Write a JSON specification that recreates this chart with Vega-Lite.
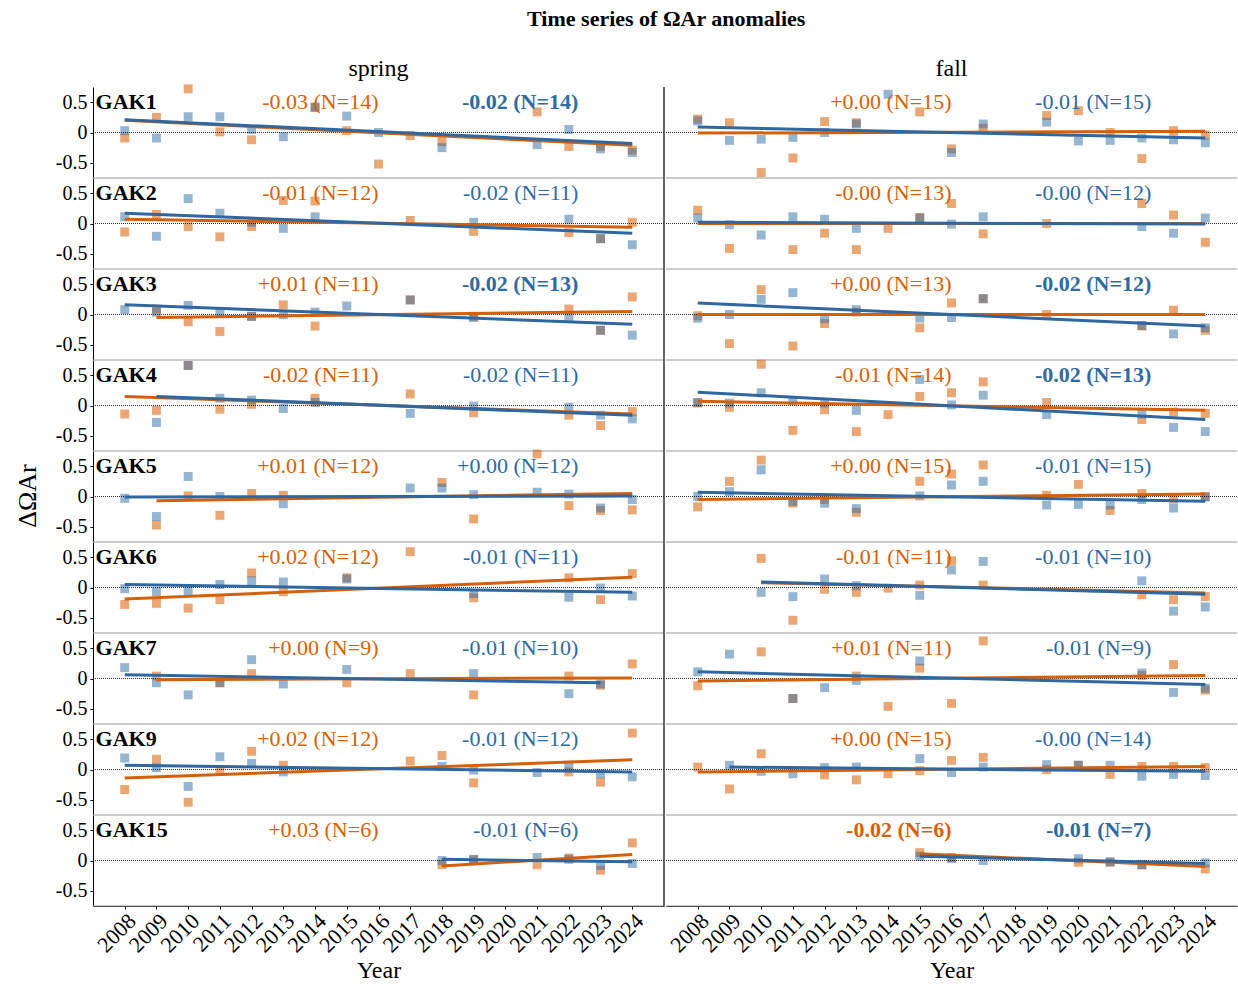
{
  "$schema": "https://vega.github.io/schema/vega-lite/v6.json",
  "padding": {"left": 14, "top": 8, "right": 2, "bottom": 4},
  "bounds": "flush",
  "title": {"text": "Time series of ΩAr anomalies", "fontSize": 22, "fontWeight": "bold", "frame": "bounds", "anchor": "middle", "dx": 40, "offset": 26},
  "config": {"font": "Liberation Serif", "view": {"stroke": null}, "axis": {"grid": false, "labelColor": "black", "titleColor": "black", "domainColor": "black", "tickColor": "black"}, "axisX": {"labelOverlap": false, "labelAngle": -45, "labelBound": false}},
  "data": {"values": [
    {"st":"GAK1","se":"spring","k":"a","ot":"-0.03 (N=14)","ob":false,"bt":"-0.02 (N=14)","bb":true},
    {"st":"GAK2","se":"spring","k":"a","ot":"-0.01 (N=12)","ob":false,"bt":"-0.02 (N=11)","bb":false},
    {"st":"GAK3","se":"spring","k":"a","ot":"+0.01 (N=11)","ob":false,"bt":"-0.02 (N=13)","bb":true},
    {"st":"GAK4","se":"spring","k":"a","ot":"-0.02 (N=11)","ob":false,"bt":"-0.02 (N=11)","bb":false},
    {"st":"GAK5","se":"spring","k":"a","ot":"+0.01 (N=12)","ob":false,"bt":"+0.00 (N=12)","bb":false},
    {"st":"GAK6","se":"spring","k":"a","ot":"+0.02 (N=12)","ob":false,"bt":"-0.01 (N=11)","bb":false},
    {"st":"GAK7","se":"spring","k":"a","ot":"+0.00 (N=9)","ob":false,"bt":"-0.01 (N=10)","bb":false},
    {"st":"GAK9","se":"spring","k":"a","ot":"+0.02 (N=12)","ob":false,"bt":"-0.01 (N=12)","bb":false},
    {"st":"GAK15","se":"spring","k":"a","ot":"+0.03 (N=6)","ob":false,"bt":"-0.01 (N=6)","bb":false},
    {"st":"GAK1","se":"fall","k":"a","ot":"+0.00 (N=15)","ob":false,"bt":"-0.01 (N=15)","bb":false},
    {"st":"GAK2","se":"fall","k":"a","ot":"-0.00 (N=13)","ob":false,"bt":"-0.00 (N=12)","bb":false},
    {"st":"GAK3","se":"fall","k":"a","ot":"+0.00 (N=13)","ob":false,"bt":"-0.02 (N=12)","bb":true},
    {"st":"GAK4","se":"fall","k":"a","ot":"-0.01 (N=14)","ob":false,"bt":"-0.02 (N=13)","bb":true},
    {"st":"GAK5","se":"fall","k":"a","ot":"+0.00 (N=15)","ob":false,"bt":"-0.01 (N=15)","bb":false},
    {"st":"GAK6","se":"fall","k":"a","ot":"-0.01 (N=11)","ob":false,"bt":"-0.01 (N=10)","bb":false},
    {"st":"GAK7","se":"fall","k":"a","ot":"+0.01 (N=11)","ob":false,"bt":"-0.01 (N=9)","bb":false},
    {"st":"GAK9","se":"fall","k":"a","ot":"+0.00 (N=15)","ob":false,"bt":"-0.00 (N=14)","bb":false},
    {"st":"GAK15","se":"fall","k":"a","ot":"-0.02 (N=6)","ob":true,"bt":"-0.01 (N=7)","bb":true},

    {"st":"GAK1","se":"spring","k":"t","s":"o","yr":2008,"v":0.20},{"st":"GAK1","se":"spring","k":"t","s":"o","yr":2024,"v":-0.21},
    {"st":"GAK1","se":"spring","k":"t","s":"b","yr":2008,"v":0.21},{"st":"GAK1","se":"spring","k":"t","s":"b","yr":2024,"v":-0.18},
    {"st":"GAK2","se":"spring","k":"t","s":"o","yr":2008,"v":0.07},{"st":"GAK2","se":"spring","k":"t","s":"o","yr":2024,"v":-0.06},
    {"st":"GAK2","se":"spring","k":"t","s":"b","yr":2008,"v":0.17},{"st":"GAK2","se":"spring","k":"t","s":"b","yr":2024,"v":-0.16},
    {"st":"GAK3","se":"spring","k":"t","s":"o","yr":2009,"v":-0.05},{"st":"GAK3","se":"spring","k":"t","s":"o","yr":2024,"v":0.05},
    {"st":"GAK3","se":"spring","k":"t","s":"b","yr":2008,"v":0.16},{"st":"GAK3","se":"spring","k":"t","s":"b","yr":2024,"v":-0.16},
    {"st":"GAK4","se":"spring","k":"t","s":"o","yr":2008,"v":0.15},{"st":"GAK4","se":"spring","k":"t","s":"o","yr":2024,"v":-0.14},
    {"st":"GAK4","se":"spring","k":"t","s":"b","yr":2009,"v":0.15},{"st":"GAK4","se":"spring","k":"t","s":"b","yr":2024,"v":-0.16},
    {"st":"GAK5","se":"spring","k":"t","s":"o","yr":2009,"v":-0.07},{"st":"GAK5","se":"spring","k":"t","s":"o","yr":2024,"v":0.05},
    {"st":"GAK5","se":"spring","k":"t","s":"b","yr":2008,"v":-0.01},{"st":"GAK5","se":"spring","k":"t","s":"b","yr":2024,"v":0.01},
    {"st":"GAK6","se":"spring","k":"t","s":"o","yr":2008,"v":-0.19},{"st":"GAK6","se":"spring","k":"t","s":"o","yr":2024,"v":0.17},
    {"st":"GAK6","se":"spring","k":"t","s":"b","yr":2008,"v":0.05},{"st":"GAK6","se":"spring","k":"t","s":"b","yr":2024,"v":-0.08},
    {"st":"GAK7","se":"spring","k":"t","s":"o","yr":2009,"v":-0.02},{"st":"GAK7","se":"spring","k":"t","s":"o","yr":2024,"v":0.01},
    {"st":"GAK7","se":"spring","k":"t","s":"b","yr":2008,"v":0.06},{"st":"GAK7","se":"spring","k":"t","s":"b","yr":2023,"v":-0.07},
    {"st":"GAK9","se":"spring","k":"t","s":"o","yr":2008,"v":-0.14},{"st":"GAK9","se":"spring","k":"t","s":"o","yr":2024,"v":0.16},
    {"st":"GAK9","se":"spring","k":"t","s":"b","yr":2008,"v":0.07},{"st":"GAK9","se":"spring","k":"t","s":"b","yr":2024,"v":-0.04},
    {"st":"GAK15","se":"spring","k":"t","s":"o","yr":2018,"v":-0.09},{"st":"GAK15","se":"spring","k":"t","s":"o","yr":2024,"v":0.10},
    {"st":"GAK15","se":"spring","k":"t","s":"b","yr":2018,"v":0.02},{"st":"GAK15","se":"spring","k":"t","s":"b","yr":2024,"v":-0.02},
    {"st":"GAK1","se":"fall","k":"t","s":"o","yr":2008,"v":-0.01},{"st":"GAK1","se":"fall","k":"t","s":"o","yr":2024,"v":0.02},
    {"st":"GAK1","se":"fall","k":"t","s":"b","yr":2008,"v":0.09},{"st":"GAK1","se":"fall","k":"t","s":"b","yr":2024,"v":-0.09},
    {"st":"GAK2","se":"fall","k":"t","s":"o","yr":2008,"v":0.0},{"st":"GAK2","se":"fall","k":"t","s":"o","yr":2024,"v":0.0},
    {"st":"GAK2","se":"fall","k":"t","s":"b","yr":2008,"v":0.02},{"st":"GAK2","se":"fall","k":"t","s":"b","yr":2024,"v":-0.01},
    {"st":"GAK3","se":"fall","k":"t","s":"o","yr":2008,"v":0.0},{"st":"GAK3","se":"fall","k":"t","s":"o","yr":2024,"v":0.0},
    {"st":"GAK3","se":"fall","k":"t","s":"b","yr":2008,"v":0.19},{"st":"GAK3","se":"fall","k":"t","s":"b","yr":2024,"v":-0.19},
    {"st":"GAK4","se":"fall","k":"t","s":"o","yr":2008,"v":0.07},{"st":"GAK4","se":"fall","k":"t","s":"o","yr":2024,"v":-0.08},
    {"st":"GAK4","se":"fall","k":"t","s":"b","yr":2008,"v":0.22},{"st":"GAK4","se":"fall","k":"t","s":"b","yr":2024,"v":-0.23},
    {"st":"GAK5","se":"fall","k":"t","s":"o","yr":2008,"v":-0.05},{"st":"GAK5","se":"fall","k":"t","s":"o","yr":2024,"v":0.04},
    {"st":"GAK5","se":"fall","k":"t","s":"b","yr":2008,"v":0.07},{"st":"GAK5","se":"fall","k":"t","s":"b","yr":2024,"v":-0.08},
    {"st":"GAK6","se":"fall","k":"t","s":"o","yr":2010,"v":0.08},{"st":"GAK6","se":"fall","k":"t","s":"o","yr":2024,"v":-0.09},
    {"st":"GAK6","se":"fall","k":"t","s":"b","yr":2010,"v":0.09},{"st":"GAK6","se":"fall","k":"t","s":"b","yr":2024,"v":-0.11},
    {"st":"GAK7","se":"fall","k":"t","s":"o","yr":2008,"v":-0.04},{"st":"GAK7","se":"fall","k":"t","s":"o","yr":2024,"v":0.05},
    {"st":"GAK7","se":"fall","k":"t","s":"b","yr":2008,"v":0.11},{"st":"GAK7","se":"fall","k":"t","s":"b","yr":2024,"v":-0.10},
    {"st":"GAK9","se":"fall","k":"t","s":"o","yr":2008,"v":-0.04},{"st":"GAK9","se":"fall","k":"t","s":"o","yr":2024,"v":0.05},
    {"st":"GAK9","se":"fall","k":"t","s":"b","yr":2009,"v":0.04},{"st":"GAK9","se":"fall","k":"t","s":"b","yr":2024,"v":-0.03},
    {"st":"GAK15","se":"fall","k":"t","s":"o","yr":2015,"v":0.11},{"st":"GAK15","se":"fall","k":"t","s":"o","yr":2024,"v":-0.10},
    {"st":"GAK15","se":"fall","k":"t","s":"b","yr":2015,"v":0.07},{"st":"GAK15","se":"fall","k":"t","s":"b","yr":2024,"v":-0.05},

    {"st":"GAK1","se":"spring","k":"p","s":"o","yr":2008,"v":-0.09},{"st":"GAK1","se":"spring","k":"p","s":"o","yr":2009,"v":0.25},{"st":"GAK1","se":"spring","k":"p","s":"o","yr":2010,"v":0.72},{"st":"GAK1","se":"spring","k":"p","s":"o","yr":2011,"v":0.01},{"st":"GAK1","se":"spring","k":"p","s":"o","yr":2012,"v":-0.12},{"st":"GAK1","se":"spring","k":"p","s":"o","yr":2014,"v":0.41},{"st":"GAK1","se":"spring","k":"p","s":"o","yr":2015,"v":0.03},{"st":"GAK1","se":"spring","k":"p","s":"o","yr":2016,"v":-0.52},{"st":"GAK1","se":"spring","k":"p","s":"o","yr":2017,"v":-0.05},{"st":"GAK1","se":"spring","k":"p","s":"o","yr":2018,"v":-0.15},{"st":"GAK1","se":"spring","k":"p","s":"o","yr":2021,"v":0.34},{"st":"GAK1","se":"spring","k":"p","s":"o","yr":2022,"v":-0.23},{"st":"GAK1","se":"spring","k":"p","s":"o","yr":2023,"v":-0.23},{"st":"GAK1","se":"spring","k":"p","s":"o","yr":2024,"v":-0.29},
    {"st":"GAK1","se":"spring","k":"p","s":"b","yr":2008,"v":0.03},{"st":"GAK1","se":"spring","k":"p","s":"b","yr":2009,"v":-0.09},{"st":"GAK1","se":"spring","k":"p","s":"b","yr":2010,"v":0.26},{"st":"GAK1","se":"spring","k":"p","s":"b","yr":2011,"v":0.26},{"st":"GAK1","se":"spring","k":"p","s":"b","yr":2012,"v":0.05},{"st":"GAK1","se":"spring","k":"p","s":"b","yr":2013,"v":-0.07},{"st":"GAK1","se":"spring","k":"p","s":"b","yr":2014,"v":0.42},{"st":"GAK1","se":"spring","k":"p","s":"b","yr":2015,"v":0.27},{"st":"GAK1","se":"spring","k":"p","s":"b","yr":2016,"v":0.0},{"st":"GAK1","se":"spring","k":"p","s":"b","yr":2018,"v":-0.25},{"st":"GAK1","se":"spring","k":"p","s":"b","yr":2021,"v":-0.2},{"st":"GAK1","se":"spring","k":"p","s":"b","yr":2022,"v":0.05},{"st":"GAK1","se":"spring","k":"p","s":"b","yr":2023,"v":-0.27},{"st":"GAK1","se":"spring","k":"p","s":"b","yr":2024,"v":-0.33},

    {"st":"GAK2","se":"spring","k":"p","s":"o","yr":2008,"v":-0.14},{"st":"GAK2","se":"spring","k":"p","s":"o","yr":2009,"v":0.15},{"st":"GAK2","se":"spring","k":"p","s":"o","yr":2010,"v":-0.05},{"st":"GAK2","se":"spring","k":"p","s":"o","yr":2011,"v":-0.22},{"st":"GAK2","se":"spring","k":"p","s":"o","yr":2012,"v":-0.05},{"st":"GAK2","se":"spring","k":"p","s":"o","yr":2013,"v":0.38},{"st":"GAK2","se":"spring","k":"p","s":"o","yr":2014,"v":0.37},{"st":"GAK2","se":"spring","k":"p","s":"o","yr":2017,"v":0.05},{"st":"GAK2","se":"spring","k":"p","s":"o","yr":2019,"v":-0.13},{"st":"GAK2","se":"spring","k":"p","s":"o","yr":2022,"v":-0.15},{"st":"GAK2","se":"spring","k":"p","s":"o","yr":2023,"v":-0.25},{"st":"GAK2","se":"spring","k":"p","s":"o","yr":2024,"v":0.02},
    {"st":"GAK2","se":"spring","k":"p","s":"b","yr":2008,"v":0.11},{"st":"GAK2","se":"spring","k":"p","s":"b","yr":2009,"v":-0.21},{"st":"GAK2","se":"spring","k":"p","s":"b","yr":2010,"v":0.41},{"st":"GAK2","se":"spring","k":"p","s":"b","yr":2011,"v":0.17},{"st":"GAK2","se":"spring","k":"p","s":"b","yr":2012,"v":0.02},{"st":"GAK2","se":"spring","k":"p","s":"b","yr":2013,"v":-0.08},{"st":"GAK2","se":"spring","k":"p","s":"b","yr":2014,"v":0.11},{"st":"GAK2","se":"spring","k":"p","s":"b","yr":2019,"v":0.02},{"st":"GAK2","se":"spring","k":"p","s":"b","yr":2022,"v":0.07},{"st":"GAK2","se":"spring","k":"p","s":"b","yr":2023,"v":-0.25},{"st":"GAK2","se":"spring","k":"p","s":"b","yr":2024,"v":-0.35},

    {"st":"GAK3","se":"spring","k":"p","s":"o","yr":2009,"v":0.09},{"st":"GAK3","se":"spring","k":"p","s":"o","yr":2010,"v":-0.12},{"st":"GAK3","se":"spring","k":"p","s":"o","yr":2011,"v":-0.28},{"st":"GAK3","se":"spring","k":"p","s":"o","yr":2012,"v":-0.03},{"st":"GAK3","se":"spring","k":"p","s":"o","yr":2013,"v":0.16},{"st":"GAK3","se":"spring","k":"p","s":"o","yr":2014,"v":-0.19},{"st":"GAK3","se":"spring","k":"p","s":"o","yr":2017,"v":0.24},{"st":"GAK3","se":"spring","k":"p","s":"o","yr":2019,"v":-0.03},{"st":"GAK3","se":"spring","k":"p","s":"o","yr":2022,"v":0.09},{"st":"GAK3","se":"spring","k":"p","s":"o","yr":2023,"v":-0.26},{"st":"GAK3","se":"spring","k":"p","s":"o","yr":2024,"v":0.29},
    {"st":"GAK3","se":"spring","k":"p","s":"b","yr":2008,"v":0.08},{"st":"GAK3","se":"spring","k":"p","s":"b","yr":2009,"v":0.04},{"st":"GAK3","se":"spring","k":"p","s":"b","yr":2010,"v":0.15},{"st":"GAK3","se":"spring","k":"p","s":"b","yr":2011,"v":0.04},{"st":"GAK3","se":"spring","k":"p","s":"b","yr":2012,"v":-0.03},{"st":"GAK3","se":"spring","k":"p","s":"b","yr":2013,"v":0.0},{"st":"GAK3","se":"spring","k":"p","s":"b","yr":2014,"v":0.04},{"st":"GAK3","se":"spring","k":"p","s":"b","yr":2015,"v":0.14},{"st":"GAK3","se":"spring","k":"p","s":"b","yr":2017,"v":0.24},{"st":"GAK3","se":"spring","k":"p","s":"b","yr":2019,"v":-0.05},{"st":"GAK3","se":"spring","k":"p","s":"b","yr":2022,"v":-0.03},{"st":"GAK3","se":"spring","k":"p","s":"b","yr":2023,"v":-0.26},{"st":"GAK3","se":"spring","k":"p","s":"b","yr":2024,"v":-0.34},

    {"st":"GAK4","se":"spring","k":"p","s":"o","yr":2008,"v":-0.14},{"st":"GAK4","se":"spring","k":"p","s":"o","yr":2009,"v":-0.08},{"st":"GAK4","se":"spring","k":"p","s":"o","yr":2010,"v":0.66},{"st":"GAK4","se":"spring","k":"p","s":"o","yr":2011,"v":-0.06},{"st":"GAK4","se":"spring","k":"p","s":"o","yr":2012,"v":0.02},{"st":"GAK4","se":"spring","k":"p","s":"o","yr":2014,"v":0.12},{"st":"GAK4","se":"spring","k":"p","s":"o","yr":2017,"v":0.19},{"st":"GAK4","se":"spring","k":"p","s":"o","yr":2019,"v":-0.12},{"st":"GAK4","se":"spring","k":"p","s":"o","yr":2022,"v":-0.16},{"st":"GAK4","se":"spring","k":"p","s":"o","yr":2023,"v":-0.33},{"st":"GAK4","se":"spring","k":"p","s":"o","yr":2024,"v":-0.1},
    {"st":"GAK4","se":"spring","k":"p","s":"b","yr":2009,"v":-0.28},{"st":"GAK4","se":"spring","k":"p","s":"b","yr":2010,"v":0.66},{"st":"GAK4","se":"spring","k":"p","s":"b","yr":2011,"v":0.12},{"st":"GAK4","se":"spring","k":"p","s":"b","yr":2012,"v":0.09},{"st":"GAK4","se":"spring","k":"p","s":"b","yr":2013,"v":-0.05},{"st":"GAK4","se":"spring","k":"p","s":"b","yr":2014,"v":0.05},{"st":"GAK4","se":"spring","k":"p","s":"b","yr":2017,"v":-0.13},{"st":"GAK4","se":"spring","k":"p","s":"b","yr":2019,"v":-0.01},{"st":"GAK4","se":"spring","k":"p","s":"b","yr":2022,"v":-0.03},{"st":"GAK4","se":"spring","k":"p","s":"b","yr":2023,"v":-0.16},{"st":"GAK4","se":"spring","k":"p","s":"b","yr":2024,"v":-0.22},

    {"st":"GAK5","se":"spring","k":"p","s":"o","yr":2009,"v":-0.47},{"st":"GAK5","se":"spring","k":"p","s":"o","yr":2010,"v":0.01},{"st":"GAK5","se":"spring","k":"p","s":"o","yr":2011,"v":-0.31},{"st":"GAK5","se":"spring","k":"p","s":"o","yr":2012,"v":0.05},{"st":"GAK5","se":"spring","k":"p","s":"o","yr":2013,"v":0.02},{"st":"GAK5","se":"spring","k":"p","s":"o","yr":2018,"v":0.23},{"st":"GAK5","se":"spring","k":"p","s":"o","yr":2019,"v":-0.37},{"st":"GAK5","se":"spring","k":"p","s":"o","yr":2021,"v":0.7},{"st":"GAK5","se":"spring","k":"p","s":"o","yr":2022,"v":-0.15},{"st":"GAK5","se":"spring","k":"p","s":"o","yr":2023,"v":-0.23},{"st":"GAK5","se":"spring","k":"p","s":"o","yr":2024,"v":-0.22},
    {"st":"GAK5","se":"spring","k":"p","s":"b","yr":2008,"v":-0.03},{"st":"GAK5","se":"spring","k":"p","s":"b","yr":2009,"v":-0.33},{"st":"GAK5","se":"spring","k":"p","s":"b","yr":2010,"v":0.33},{"st":"GAK5","se":"spring","k":"p","s":"b","yr":2011,"v":0.0},{"st":"GAK5","se":"spring","k":"p","s":"b","yr":2013,"v":-0.12},{"st":"GAK5","se":"spring","k":"p","s":"b","yr":2017,"v":0.14},{"st":"GAK5","se":"spring","k":"p","s":"b","yr":2018,"v":0.14},{"st":"GAK5","se":"spring","k":"p","s":"b","yr":2019,"v":0.03},{"st":"GAK5","se":"spring","k":"p","s":"b","yr":2021,"v":0.07},{"st":"GAK5","se":"spring","k":"p","s":"b","yr":2022,"v":0.04},{"st":"GAK5","se":"spring","k":"p","s":"b","yr":2023,"v":-0.19},{"st":"GAK5","se":"spring","k":"p","s":"b","yr":2024,"v":-0.05},

    {"st":"GAK6","se":"spring","k":"p","s":"o","yr":2008,"v":-0.28},{"st":"GAK6","se":"spring","k":"p","s":"o","yr":2009,"v":-0.26},{"st":"GAK6","se":"spring","k":"p","s":"o","yr":2010,"v":-0.34},{"st":"GAK6","se":"spring","k":"p","s":"o","yr":2011,"v":-0.2},{"st":"GAK6","se":"spring","k":"p","s":"o","yr":2012,"v":0.24},{"st":"GAK6","se":"spring","k":"p","s":"o","yr":2013,"v":-0.07},{"st":"GAK6","se":"spring","k":"p","s":"o","yr":2015,"v":0.16},{"st":"GAK6","se":"spring","k":"p","s":"o","yr":2017,"v":0.59},{"st":"GAK6","se":"spring","k":"p","s":"o","yr":2019,"v":-0.17},{"st":"GAK6","se":"spring","k":"p","s":"o","yr":2022,"v":0.16},{"st":"GAK6","se":"spring","k":"p","s":"o","yr":2023,"v":-0.2},{"st":"GAK6","se":"spring","k":"p","s":"o","yr":2024,"v":0.23},
    {"st":"GAK6","se":"spring","k":"p","s":"b","yr":2008,"v":-0.02},{"st":"GAK6","se":"spring","k":"p","s":"b","yr":2009,"v":-0.07},{"st":"GAK6","se":"spring","k":"p","s":"b","yr":2010,"v":-0.05},{"st":"GAK6","se":"spring","k":"p","s":"b","yr":2011,"v":0.05},{"st":"GAK6","se":"spring","k":"p","s":"b","yr":2012,"v":0.11},{"st":"GAK6","se":"spring","k":"p","s":"b","yr":2013,"v":0.09},{"st":"GAK6","se":"spring","k":"p","s":"b","yr":2015,"v":0.14},{"st":"GAK6","se":"spring","k":"p","s":"b","yr":2019,"v":-0.1},{"st":"GAK6","se":"spring","k":"p","s":"b","yr":2022,"v":-0.16},{"st":"GAK6","se":"spring","k":"p","s":"b","yr":2023,"v":-0.01},{"st":"GAK6","se":"spring","k":"p","s":"b","yr":2024,"v":-0.14},

    {"st":"GAK7","se":"spring","k":"p","s":"o","yr":2009,"v":0.04},{"st":"GAK7","se":"spring","k":"p","s":"o","yr":2011,"v":-0.07},{"st":"GAK7","se":"spring","k":"p","s":"o","yr":2012,"v":0.08},{"st":"GAK7","se":"spring","k":"p","s":"o","yr":2015,"v":-0.07},{"st":"GAK7","se":"spring","k":"p","s":"o","yr":2017,"v":0.08},{"st":"GAK7","se":"spring","k":"p","s":"o","yr":2019,"v":-0.27},{"st":"GAK7","se":"spring","k":"p","s":"o","yr":2022,"v":0.04},{"st":"GAK7","se":"spring","k":"p","s":"o","yr":2023,"v":-0.11},{"st":"GAK7","se":"spring","k":"p","s":"o","yr":2024,"v":0.24},
    {"st":"GAK7","se":"spring","k":"p","s":"b","yr":2008,"v":0.18},{"st":"GAK7","se":"spring","k":"p","s":"b","yr":2009,"v":-0.07},{"st":"GAK7","se":"spring","k":"p","s":"b","yr":2010,"v":-0.27},{"st":"GAK7","se":"spring","k":"p","s":"b","yr":2011,"v":-0.07},{"st":"GAK7","se":"spring","k":"p","s":"b","yr":2012,"v":0.31},{"st":"GAK7","se":"spring","k":"p","s":"b","yr":2013,"v":-0.09},{"st":"GAK7","se":"spring","k":"p","s":"b","yr":2015,"v":0.15},{"st":"GAK7","se":"spring","k":"p","s":"b","yr":2019,"v":0.08},{"st":"GAK7","se":"spring","k":"p","s":"b","yr":2022,"v":-0.25},{"st":"GAK7","se":"spring","k":"p","s":"b","yr":2023,"v":-0.09},

    {"st":"GAK9","se":"spring","k":"p","s":"o","yr":2008,"v":-0.33},{"st":"GAK9","se":"spring","k":"p","s":"o","yr":2009,"v":0.17},{"st":"GAK9","se":"spring","k":"p","s":"o","yr":2010,"v":-0.54},{"st":"GAK9","se":"spring","k":"p","s":"o","yr":2011,"v":-0.03},{"st":"GAK9","se":"spring","k":"p","s":"o","yr":2012,"v":0.3},{"st":"GAK9","se":"spring","k":"p","s":"o","yr":2013,"v":0.07},{"st":"GAK9","se":"spring","k":"p","s":"o","yr":2017,"v":0.14},{"st":"GAK9","se":"spring","k":"p","s":"o","yr":2018,"v":0.23},{"st":"GAK9","se":"spring","k":"p","s":"o","yr":2019,"v":-0.22},{"st":"GAK9","se":"spring","k":"p","s":"o","yr":2022,"v":-0.04},{"st":"GAK9","se":"spring","k":"p","s":"o","yr":2023,"v":-0.21},{"st":"GAK9","se":"spring","k":"p","s":"o","yr":2024,"v":0.6},
    {"st":"GAK9","se":"spring","k":"p","s":"b","yr":2008,"v":0.19},{"st":"GAK9","se":"spring","k":"p","s":"b","yr":2009,"v":0.03},{"st":"GAK9","se":"spring","k":"p","s":"b","yr":2010,"v":-0.28},{"st":"GAK9","se":"spring","k":"p","s":"b","yr":2011,"v":0.21},{"st":"GAK9","se":"spring","k":"p","s":"b","yr":2012,"v":0.1},{"st":"GAK9","se":"spring","k":"p","s":"b","yr":2013,"v":-0.04},{"st":"GAK9","se":"spring","k":"p","s":"b","yr":2018,"v":0.05},{"st":"GAK9","se":"spring","k":"p","s":"b","yr":2019,"v":-0.01},{"st":"GAK9","se":"spring","k":"p","s":"b","yr":2021,"v":-0.05},{"st":"GAK9","se":"spring","k":"p","s":"b","yr":2022,"v":0.07},{"st":"GAK9","se":"spring","k":"p","s":"b","yr":2023,"v":-0.07},{"st":"GAK9","se":"spring","k":"p","s":"b","yr":2024,"v":-0.12},

    {"st":"GAK15","se":"spring","k":"p","s":"o","yr":2018,"v":-0.07},{"st":"GAK15","se":"spring","k":"p","s":"o","yr":2019,"v":0.01},{"st":"GAK15","se":"spring","k":"p","s":"o","yr":2021,"v":-0.07},{"st":"GAK15","se":"spring","k":"p","s":"o","yr":2022,"v":0.04},{"st":"GAK15","se":"spring","k":"p","s":"o","yr":2023,"v":-0.16},{"st":"GAK15","se":"spring","k":"p","s":"o","yr":2024,"v":0.29},
    {"st":"GAK15","se":"spring","k":"p","s":"b","yr":2018,"v":0.0},{"st":"GAK15","se":"spring","k":"p","s":"b","yr":2019,"v":0.02},{"st":"GAK15","se":"spring","k":"p","s":"b","yr":2021,"v":0.05},{"st":"GAK15","se":"spring","k":"p","s":"b","yr":2022,"v":0.02},{"st":"GAK15","se":"spring","k":"p","s":"b","yr":2023,"v":-0.08},{"st":"GAK15","se":"spring","k":"p","s":"b","yr":2024,"v":-0.05},

    {"st":"GAK1","se":"fall","k":"p","s":"o","yr":2008,"v":0.22},{"st":"GAK1","se":"fall","k":"p","s":"o","yr":2009,"v":0.16},{"st":"GAK1","se":"fall","k":"p","s":"o","yr":2010,"v":-0.66},{"st":"GAK1","se":"fall","k":"p","s":"o","yr":2011,"v":-0.42},{"st":"GAK1","se":"fall","k":"p","s":"o","yr":2012,"v":0.18},{"st":"GAK1","se":"fall","k":"p","s":"o","yr":2013,"v":0.16},{"st":"GAK1","se":"fall","k":"p","s":"o","yr":2015,"v":0.34},{"st":"GAK1","se":"fall","k":"p","s":"o","yr":2016,"v":-0.27},{"st":"GAK1","se":"fall","k":"p","s":"o","yr":2017,"v":0.07},{"st":"GAK1","se":"fall","k":"p","s":"o","yr":2019,"v":0.28},{"st":"GAK1","se":"fall","k":"p","s":"o","yr":2020,"v":0.36},{"st":"GAK1","se":"fall","k":"p","s":"o","yr":2021,"v":0.0},{"st":"GAK1","se":"fall","k":"p","s":"o","yr":2022,"v":-0.43},{"st":"GAK1","se":"fall","k":"p","s":"o","yr":2023,"v":0.03},{"st":"GAK1","se":"fall","k":"p","s":"o","yr":2024,"v":-0.04},
    {"st":"GAK1","se":"fall","k":"p","s":"b","yr":2008,"v":0.19},{"st":"GAK1","se":"fall","k":"p","s":"b","yr":2009,"v":-0.13},{"st":"GAK1","se":"fall","k":"p","s":"b","yr":2010,"v":-0.11},{"st":"GAK1","se":"fall","k":"p","s":"b","yr":2011,"v":-0.08},{"st":"GAK1","se":"fall","k":"p","s":"b","yr":2012,"v":0.0},{"st":"GAK1","se":"fall","k":"p","s":"b","yr":2013,"v":0.14},{"st":"GAK1","se":"fall","k":"p","s":"b","yr":2014,"v":0.63},{"st":"GAK1","se":"fall","k":"p","s":"b","yr":2016,"v":-0.33},{"st":"GAK1","se":"fall","k":"p","s":"b","yr":2017,"v":0.14},{"st":"GAK1","se":"fall","k":"p","s":"b","yr":2019,"v":0.17},{"st":"GAK1","se":"fall","k":"p","s":"b","yr":2020,"v":-0.14},{"st":"GAK1","se":"fall","k":"p","s":"b","yr":2021,"v":-0.13},{"st":"GAK1","se":"fall","k":"p","s":"b","yr":2022,"v":-0.09},{"st":"GAK1","se":"fall","k":"p","s":"b","yr":2023,"v":-0.12},{"st":"GAK1","se":"fall","k":"p","s":"b","yr":2024,"v":-0.17},

    {"st":"GAK2","se":"fall","k":"p","s":"o","yr":2008,"v":0.22},{"st":"GAK2","se":"fall","k":"p","s":"o","yr":2009,"v":-0.41},{"st":"GAK2","se":"fall","k":"p","s":"o","yr":2011,"v":-0.43},{"st":"GAK2","se":"fall","k":"p","s":"o","yr":2012,"v":-0.16},{"st":"GAK2","se":"fall","k":"p","s":"o","yr":2013,"v":-0.43},{"st":"GAK2","se":"fall","k":"p","s":"o","yr":2014,"v":-0.08},{"st":"GAK2","se":"fall","k":"p","s":"o","yr":2015,"v":0.1},{"st":"GAK2","se":"fall","k":"p","s":"o","yr":2016,"v":0.33},{"st":"GAK2","se":"fall","k":"p","s":"o","yr":2017,"v":-0.17},{"st":"GAK2","se":"fall","k":"p","s":"o","yr":2019,"v":0.0},{"st":"GAK2","se":"fall","k":"p","s":"o","yr":2022,"v":0.33},{"st":"GAK2","se":"fall","k":"p","s":"o","yr":2023,"v":0.14},{"st":"GAK2","se":"fall","k":"p","s":"o","yr":2024,"v":-0.31},
    {"st":"GAK2","se":"fall","k":"p","s":"b","yr":2008,"v":0.09},{"st":"GAK2","se":"fall","k":"p","s":"b","yr":2009,"v":-0.02},{"st":"GAK2","se":"fall","k":"p","s":"b","yr":2010,"v":-0.19},{"st":"GAK2","se":"fall","k":"p","s":"b","yr":2011,"v":0.11},{"st":"GAK2","se":"fall","k":"p","s":"b","yr":2012,"v":0.07},{"st":"GAK2","se":"fall","k":"p","s":"b","yr":2013,"v":-0.08},{"st":"GAK2","se":"fall","k":"p","s":"b","yr":2015,"v":0.09},{"st":"GAK2","se":"fall","k":"p","s":"b","yr":2016,"v":-0.01},{"st":"GAK2","se":"fall","k":"p","s":"b","yr":2017,"v":0.11},{"st":"GAK2","se":"fall","k":"p","s":"b","yr":2022,"v":-0.05},{"st":"GAK2","se":"fall","k":"p","s":"b","yr":2023,"v":-0.16},{"st":"GAK2","se":"fall","k":"p","s":"b","yr":2024,"v":0.09},

    {"st":"GAK3","se":"fall","k":"p","s":"o","yr":2008,"v":-0.02},{"st":"GAK3","se":"fall","k":"p","s":"o","yr":2009,"v":-0.48},{"st":"GAK3","se":"fall","k":"p","s":"o","yr":2010,"v":0.41},{"st":"GAK3","se":"fall","k":"p","s":"o","yr":2011,"v":-0.52},{"st":"GAK3","se":"fall","k":"p","s":"o","yr":2012,"v":-0.15},{"st":"GAK3","se":"fall","k":"p","s":"o","yr":2013,"v":0.04},{"st":"GAK3","se":"fall","k":"p","s":"o","yr":2015,"v":-0.22},{"st":"GAK3","se":"fall","k":"p","s":"o","yr":2016,"v":0.19},{"st":"GAK3","se":"fall","k":"p","s":"o","yr":2017,"v":0.26},{"st":"GAK3","se":"fall","k":"p","s":"o","yr":2019,"v":0.0},{"st":"GAK3","se":"fall","k":"p","s":"o","yr":2022,"v":-0.19},{"st":"GAK3","se":"fall","k":"p","s":"o","yr":2023,"v":0.07},{"st":"GAK3","se":"fall","k":"p","s":"o","yr":2024,"v":-0.26},
    {"st":"GAK3","se":"fall","k":"p","s":"b","yr":2008,"v":-0.06},{"st":"GAK3","se":"fall","k":"p","s":"b","yr":2009,"v":0.0},{"st":"GAK3","se":"fall","k":"p","s":"b","yr":2010,"v":0.25},{"st":"GAK3","se":"fall","k":"p","s":"b","yr":2011,"v":0.36},{"st":"GAK3","se":"fall","k":"p","s":"b","yr":2012,"v":-0.07},{"st":"GAK3","se":"fall","k":"p","s":"b","yr":2013,"v":0.08},{"st":"GAK3","se":"fall","k":"p","s":"b","yr":2015,"v":-0.06},{"st":"GAK3","se":"fall","k":"p","s":"b","yr":2016,"v":-0.05},{"st":"GAK3","se":"fall","k":"p","s":"b","yr":2017,"v":0.26},{"st":"GAK3","se":"fall","k":"p","s":"b","yr":2022,"v":-0.18},{"st":"GAK3","se":"fall","k":"p","s":"b","yr":2023,"v":-0.32},{"st":"GAK3","se":"fall","k":"p","s":"b","yr":2024,"v":-0.22},

    {"st":"GAK4","se":"fall","k":"p","s":"o","yr":2008,"v":0.04},{"st":"GAK4","se":"fall","k":"p","s":"o","yr":2009,"v":-0.03},{"st":"GAK4","se":"fall","k":"p","s":"o","yr":2010,"v":0.68},{"st":"GAK4","se":"fall","k":"p","s":"o","yr":2011,"v":-0.41},{"st":"GAK4","se":"fall","k":"p","s":"o","yr":2012,"v":-0.07},{"st":"GAK4","se":"fall","k":"p","s":"o","yr":2013,"v":-0.43},{"st":"GAK4","se":"fall","k":"p","s":"o","yr":2014,"v":-0.15},{"st":"GAK4","se":"fall","k":"p","s":"o","yr":2015,"v":0.15},{"st":"GAK4","se":"fall","k":"p","s":"o","yr":2016,"v":0.21},{"st":"GAK4","se":"fall","k":"p","s":"o","yr":2017,"v":0.39},{"st":"GAK4","se":"fall","k":"p","s":"o","yr":2019,"v":0.05},{"st":"GAK4","se":"fall","k":"p","s":"o","yr":2022,"v":-0.23},{"st":"GAK4","se":"fall","k":"p","s":"o","yr":2023,"v":-0.11},{"st":"GAK4","se":"fall","k":"p","s":"o","yr":2024,"v":-0.13},
    {"st":"GAK4","se":"fall","k":"p","s":"b","yr":2008,"v":0.05},{"st":"GAK4","se":"fall","k":"p","s":"b","yr":2009,"v":0.04},{"st":"GAK4","se":"fall","k":"p","s":"b","yr":2010,"v":0.21},{"st":"GAK4","se":"fall","k":"p","s":"b","yr":2011,"v":0.08},{"st":"GAK4","se":"fall","k":"p","s":"b","yr":2012,"v":0.04},{"st":"GAK4","se":"fall","k":"p","s":"b","yr":2013,"v":-0.08},{"st":"GAK4","se":"fall","k":"p","s":"b","yr":2015,"v":0.43},{"st":"GAK4","se":"fall","k":"p","s":"b","yr":2016,"v":0.01},{"st":"GAK4","se":"fall","k":"p","s":"b","yr":2017,"v":0.17},{"st":"GAK4","se":"fall","k":"p","s":"b","yr":2019,"v":-0.15},{"st":"GAK4","se":"fall","k":"p","s":"b","yr":2022,"v":-0.14},{"st":"GAK4","se":"fall","k":"p","s":"b","yr":2023,"v":-0.36},{"st":"GAK4","se":"fall","k":"p","s":"b","yr":2024,"v":-0.43},

    {"st":"GAK5","se":"fall","k":"p","s":"o","yr":2008,"v":-0.17},{"st":"GAK5","se":"fall","k":"p","s":"o","yr":2009,"v":0.25},{"st":"GAK5","se":"fall","k":"p","s":"o","yr":2010,"v":0.6},{"st":"GAK5","se":"fall","k":"p","s":"o","yr":2011,"v":-0.11},{"st":"GAK5","se":"fall","k":"p","s":"o","yr":2012,"v":-0.05},{"st":"GAK5","se":"fall","k":"p","s":"o","yr":2013,"v":-0.26},{"st":"GAK5","se":"fall","k":"p","s":"o","yr":2015,"v":0.25},{"st":"GAK5","se":"fall","k":"p","s":"o","yr":2016,"v":0.37},{"st":"GAK5","se":"fall","k":"p","s":"o","yr":2017,"v":0.52},{"st":"GAK5","se":"fall","k":"p","s":"o","yr":2019,"v":0.02},{"st":"GAK5","se":"fall","k":"p","s":"o","yr":2020,"v":0.2},{"st":"GAK5","se":"fall","k":"p","s":"o","yr":2021,"v":-0.23},{"st":"GAK5","se":"fall","k":"p","s":"o","yr":2022,"v":0.05},{"st":"GAK5","se":"fall","k":"p","s":"o","yr":2023,"v":-0.04},{"st":"GAK5","se":"fall","k":"p","s":"o","yr":2024,"v":0.0},
    {"st":"GAK5","se":"fall","k":"p","s":"b","yr":2008,"v":0.0},{"st":"GAK5","se":"fall","k":"p","s":"b","yr":2009,"v":0.08},{"st":"GAK5","se":"fall","k":"p","s":"b","yr":2010,"v":0.44},{"st":"GAK5","se":"fall","k":"p","s":"b","yr":2011,"v":-0.08},{"st":"GAK5","se":"fall","k":"p","s":"b","yr":2012,"v":-0.11},{"st":"GAK5","se":"fall","k":"p","s":"b","yr":2013,"v":-0.2},{"st":"GAK5","se":"fall","k":"p","s":"b","yr":2015,"v":0.01},{"st":"GAK5","se":"fall","k":"p","s":"b","yr":2016,"v":0.19},{"st":"GAK5","se":"fall","k":"p","s":"b","yr":2017,"v":0.25},{"st":"GAK5","se":"fall","k":"p","s":"b","yr":2019,"v":-0.14},{"st":"GAK5","se":"fall","k":"p","s":"b","yr":2020,"v":-0.13},{"st":"GAK5","se":"fall","k":"p","s":"b","yr":2021,"v":-0.14},{"st":"GAK5","se":"fall","k":"p","s":"b","yr":2022,"v":-0.05},{"st":"GAK5","se":"fall","k":"p","s":"b","yr":2023,"v":-0.19},{"st":"GAK5","se":"fall","k":"p","s":"b","yr":2024,"v":-0.01},

    {"st":"GAK6","se":"fall","k":"p","s":"o","yr":2010,"v":0.48},{"st":"GAK6","se":"fall","k":"p","s":"o","yr":2011,"v":-0.54},{"st":"GAK6","se":"fall","k":"p","s":"o","yr":2012,"v":-0.03},{"st":"GAK6","se":"fall","k":"p","s":"o","yr":2013,"v":-0.08},{"st":"GAK6","se":"fall","k":"p","s":"o","yr":2014,"v":-0.01},{"st":"GAK6","se":"fall","k":"p","s":"o","yr":2015,"v":0.04},{"st":"GAK6","se":"fall","k":"p","s":"o","yr":2016,"v":0.44},{"st":"GAK6","se":"fall","k":"p","s":"o","yr":2017,"v":0.04},{"st":"GAK6","se":"fall","k":"p","s":"o","yr":2022,"v":-0.12},{"st":"GAK6","se":"fall","k":"p","s":"o","yr":2023,"v":-0.2},{"st":"GAK6","se":"fall","k":"p","s":"o","yr":2024,"v":-0.15},
    {"st":"GAK6","se":"fall","k":"p","s":"b","yr":2010,"v":-0.08},{"st":"GAK6","se":"fall","k":"p","s":"b","yr":2011,"v":-0.15},{"st":"GAK6","se":"fall","k":"p","s":"b","yr":2012,"v":0.14},{"st":"GAK6","se":"fall","k":"p","s":"b","yr":2013,"v":0.03},{"st":"GAK6","se":"fall","k":"p","s":"b","yr":2015,"v":-0.13},{"st":"GAK6","se":"fall","k":"p","s":"b","yr":2016,"v":0.29},{"st":"GAK6","se":"fall","k":"p","s":"b","yr":2017,"v":0.43},{"st":"GAK6","se":"fall","k":"p","s":"b","yr":2022,"v":0.11},{"st":"GAK6","se":"fall","k":"p","s":"b","yr":2023,"v":-0.39},{"st":"GAK6","se":"fall","k":"p","s":"b","yr":2024,"v":-0.32},

    {"st":"GAK7","se":"fall","k":"p","s":"o","yr":2008,"v":-0.12},{"st":"GAK7","se":"fall","k":"p","s":"o","yr":2010,"v":0.44},{"st":"GAK7","se":"fall","k":"p","s":"o","yr":2011,"v":-0.33},{"st":"GAK7","se":"fall","k":"p","s":"o","yr":2013,"v":0.04},{"st":"GAK7","se":"fall","k":"p","s":"o","yr":2014,"v":-0.46},{"st":"GAK7","se":"fall","k":"p","s":"o","yr":2015,"v":0.17},{"st":"GAK7","se":"fall","k":"p","s":"o","yr":2016,"v":-0.41},{"st":"GAK7","se":"fall","k":"p","s":"o","yr":2017,"v":0.62},{"st":"GAK7","se":"fall","k":"p","s":"o","yr":2022,"v":0.05},{"st":"GAK7","se":"fall","k":"p","s":"o","yr":2023,"v":0.23},{"st":"GAK7","se":"fall","k":"p","s":"o","yr":2024,"v":-0.19},
    {"st":"GAK7","se":"fall","k":"p","s":"b","yr":2008,"v":0.11},{"st":"GAK7","se":"fall","k":"p","s":"b","yr":2009,"v":0.4},{"st":"GAK7","se":"fall","k":"p","s":"b","yr":2011,"v":-0.33},{"st":"GAK7","se":"fall","k":"p","s":"b","yr":2012,"v":-0.15},{"st":"GAK7","se":"fall","k":"p","s":"b","yr":2013,"v":-0.03},{"st":"GAK7","se":"fall","k":"p","s":"b","yr":2015,"v":0.29},{"st":"GAK7","se":"fall","k":"p","s":"b","yr":2022,"v":0.09},{"st":"GAK7","se":"fall","k":"p","s":"b","yr":2023,"v":-0.23},{"st":"GAK7","se":"fall","k":"p","s":"b","yr":2024,"v":-0.16},

    {"st":"GAK9","se":"fall","k":"p","s":"o","yr":2008,"v":0.04},{"st":"GAK9","se":"fall","k":"p","s":"o","yr":2009,"v":-0.32},{"st":"GAK9","se":"fall","k":"p","s":"o","yr":2010,"v":0.26},{"st":"GAK9","se":"fall","k":"p","s":"o","yr":2012,"v":-0.09},{"st":"GAK9","se":"fall","k":"p","s":"o","yr":2013,"v":-0.17},{"st":"GAK9","se":"fall","k":"p","s":"o","yr":2014,"v":-0.07},{"st":"GAK9","se":"fall","k":"p","s":"o","yr":2015,"v":-0.02},{"st":"GAK9","se":"fall","k":"p","s":"o","yr":2016,"v":0.15},{"st":"GAK9","se":"fall","k":"p","s":"o","yr":2017,"v":0.2},{"st":"GAK9","se":"fall","k":"p","s":"o","yr":2019,"v":0.0},{"st":"GAK9","se":"fall","k":"p","s":"o","yr":2020,"v":0.07},{"st":"GAK9","se":"fall","k":"p","s":"o","yr":2021,"v":-0.08},{"st":"GAK9","se":"fall","k":"p","s":"o","yr":2022,"v":0.05},{"st":"GAK9","se":"fall","k":"p","s":"o","yr":2023,"v":0.05},{"st":"GAK9","se":"fall","k":"p","s":"o","yr":2024,"v":0.03},
    {"st":"GAK9","se":"fall","k":"p","s":"b","yr":2009,"v":0.07},{"st":"GAK9","se":"fall","k":"p","s":"b","yr":2010,"v":-0.03},{"st":"GAK9","se":"fall","k":"p","s":"b","yr":2011,"v":-0.07},{"st":"GAK9","se":"fall","k":"p","s":"b","yr":2012,"v":0.03},{"st":"GAK9","se":"fall","k":"p","s":"b","yr":2013,"v":0.04},{"st":"GAK9","se":"fall","k":"p","s":"b","yr":2015,"v":0.18},{"st":"GAK9","se":"fall","k":"p","s":"b","yr":2016,"v":-0.05},{"st":"GAK9","se":"fall","k":"p","s":"b","yr":2017,"v":0.04},{"st":"GAK9","se":"fall","k":"p","s":"b","yr":2019,"v":0.08},{"st":"GAK9","se":"fall","k":"p","s":"b","yr":2020,"v":0.07},{"st":"GAK9","se":"fall","k":"p","s":"b","yr":2021,"v":0.07},{"st":"GAK9","se":"fall","k":"p","s":"b","yr":2022,"v":-0.11},{"st":"GAK9","se":"fall","k":"p","s":"b","yr":2023,"v":-0.08},{"st":"GAK9","se":"fall","k":"p","s":"b","yr":2024,"v":-0.1},

    {"st":"GAK15","se":"fall","k":"p","s":"o","yr":2015,"v":0.13},{"st":"GAK15","se":"fall","k":"p","s":"o","yr":2016,"v":0.05},{"st":"GAK15","se":"fall","k":"p","s":"o","yr":2020,"v":-0.03},{"st":"GAK15","se":"fall","k":"p","s":"o","yr":2021,"v":-0.03},{"st":"GAK15","se":"fall","k":"p","s":"o","yr":2022,"v":-0.07},{"st":"GAK15","se":"fall","k":"p","s":"o","yr":2024,"v":-0.14},
    {"st":"GAK15","se":"fall","k":"p","s":"b","yr":2015,"v":0.07},{"st":"GAK15","se":"fall","k":"p","s":"b","yr":2016,"v":0.03},{"st":"GAK15","se":"fall","k":"p","s":"b","yr":2017,"v":0.0},{"st":"GAK15","se":"fall","k":"p","s":"b","yr":2020,"v":0.03},{"st":"GAK15","se":"fall","k":"p","s":"b","yr":2021,"v":-0.02},{"st":"GAK15","se":"fall","k":"p","s":"b","yr":2022,"v":-0.07},{"st":"GAK15","se":"fall","k":"p","s":"b","yr":2024,"v":-0.04}
  ]},
  "facet": {
    "row": {"field": "st", "type": "nominal", "sort": ["GAK1","GAK2","GAK3","GAK4","GAK5","GAK6","GAK7","GAK9","GAK15"], "header": {"labels": false, "title": "ΔΩAr", "titleFontSize": 26, "titleFontWeight": "normal", "titleColor": "black", "titlePadding": 4}},
    "column": {"field": "se", "type": "nominal", "sort": ["spring","fall"], "header": {"title": null, "labelFontSize": 24, "labelColor": "black", "labelPadding": 6}}
  },
  "spacing": {"row": 0, "column": 2},
  "spec": {
    "width": 571,
    "height": 91,
    "layer": [
      {
        "transform": [{"filter": "datum.k == 'p' && datum.s == 'o'"}],
        "mark": {"type": "square", "size": 80, "opacity": 0.55, "color": "#d95f02"},
        "encoding": {
          "x": {"field": "yr", "type": "quantitative", "scale": {"domain": [2007, 2025], "nice": false, "zero": false}, "axis": {"values": [2008,2009,2010,2011,2012,2013,2014,2015,2016,2017,2018,2019,2020,2021,2022,2023,2024], "tickCount": 17, "format": "d", "labelAngle": -45, "labelOverlap": false, "labelFontSize": 22, "title": "Year", "titleFontSize": 24, "titleFontWeight": "normal", "titlePadding": 3, "tickSize": 3, "labelPadding": 1}},
          "y": {"field": "v", "type": "quantitative", "scale": {"domain": [-0.75, 0.75], "nice": false}, "axis": {"values": [-0.5, 0, 0.5], "labelExpr": "datum.value == 0 ? '0' : (datum.value > 0 ? '0.5' : '-0.5')", "labelFontSize": 20, "title": null, "tickSize": 3, "labelPadding": 3}}
        }
      },
      {
        "transform": [{"filter": "datum.k == 'p' && datum.s == 'b'"}],
        "mark": {"type": "square", "size": 80, "opacity": 0.5, "color": "#2e6ba4"},
        "encoding": {
          "x": {"field": "yr", "type": "quantitative"},
          "y": {"field": "v", "type": "quantitative"}
        }
      },
      {
        "transform": [{"filter": "datum.k == 'a'"}],
        "mark": {"type": "rule", "color": "black", "strokeDash": [1, 1], "strokeWidth": 0.8},
        "encoding": {"y": {"datum": 0, "type": "quantitative"}}
      },
      {
        "transform": [{"filter": "datum.k == 'a'"}],
        "mark": {"type": "rule", "color": "#999999", "strokeWidth": 1},
        "encoding": {"y": {"datum": -0.75, "type": "quantitative"}}
      },
      {
        "transform": [{"filter": "datum.k == 'a' && datum.se == 'spring'"}],
        "mark": {"type": "rule", "color": "#333333", "strokeWidth": 1.5},
        "encoding": {"x": {"datum": 2025, "type": "quantitative"}}
      },
      {
        "transform": [{"filter": "datum.k == 't' && datum.s == 'o'"}],
        "mark": {"type": "line", "color": "#d4600c", "strokeWidth": 3},
        "encoding": {
          "x": {"field": "yr", "type": "quantitative"},
          "y": {"field": "v", "type": "quantitative"}
        }
      },
      {
        "transform": [{"filter": "datum.k == 't' && datum.s == 'b'"}],
        "mark": {"type": "line", "color": "#2f67a0", "strokeWidth": 3},
        "encoding": {
          "x": {"field": "yr", "type": "quantitative"},
          "y": {"field": "v", "type": "quantitative"}
        }
      },
      {
        "transform": [{"filter": "datum.k == 'a' && datum.se == 'spring'"}],
        "mark": {"type": "text", "align": "left", "baseline": "middle", "fontSize": 22, "fontWeight": "bold", "color": "black"},
        "encoding": {"x": {"datum": 2007.08, "type": "quantitative"}, "y": {"datum": 0.5, "type": "quantitative"}, "text": {"field": "st"}}
      },
      {
        "transform": [{"filter": "datum.k == 'a' && !datum.ob"}],
        "mark": {"type": "text", "align": "right", "baseline": "middle", "fontSize": 22, "color": "#d95f02"},
        "encoding": {"x": {"datum": 2016, "type": "quantitative"}, "y": {"datum": 0.5, "type": "quantitative"}, "text": {"field": "ot"}}
      },
      {
        "transform": [{"filter": "datum.k == 'a' && datum.ob"}],
        "mark": {"type": "text", "align": "right", "baseline": "middle", "fontSize": 22, "fontWeight": "bold", "color": "#d95f02"},
        "encoding": {"x": {"datum": 2016, "type": "quantitative"}, "y": {"datum": 0.5, "type": "quantitative"}, "text": {"field": "ot"}}
      },
      {
        "transform": [{"filter": "datum.k == 'a' && !datum.bb"}],
        "mark": {"type": "text", "align": "right", "baseline": "middle", "fontSize": 22, "color": "#2f6aa3"},
        "encoding": {"x": {"datum": 2022.3, "type": "quantitative"}, "y": {"datum": 0.5, "type": "quantitative"}, "text": {"field": "bt"}}
      },
      {
        "transform": [{"filter": "datum.k == 'a' && datum.bb"}],
        "mark": {"type": "text", "align": "right", "baseline": "middle", "fontSize": 22, "fontWeight": "bold", "color": "#2f6aa3"},
        "encoding": {"x": {"datum": 2022.3, "type": "quantitative"}, "y": {"datum": 0.5, "type": "quantitative"}, "text": {"field": "bt"}}
      }
    ]
  }
}
